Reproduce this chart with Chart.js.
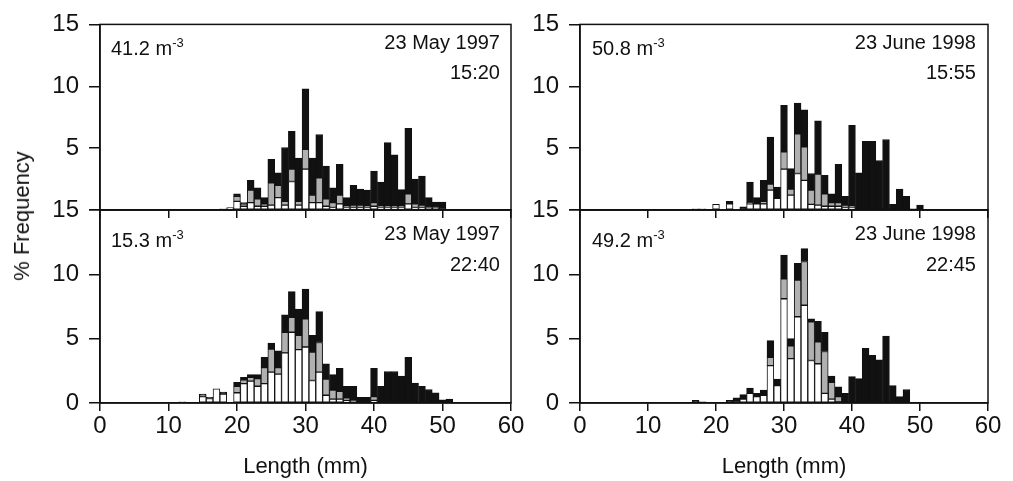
<!DOCTYPE html>
<html>
<head>
<meta charset="utf-8">
<script src="https://cdn.jsdelivr.net/npm/chart.js@4.4.1/dist/chart.umd.min.js"></script>
<style>
  body { margin: 0; background: #fff; }
  #wrap { position: relative; width: 1013px; height: 481px; font-family: "Liberation Sans", Arial, sans-serif; color: #111; }
  canvas { position: absolute; left: 0; top: 0; }
  .note { position: absolute; font-size: 20px; line-height: 20px; white-space: nowrap; }
  .note sup { font-size: 13px; line-height: 0; vertical-align: 8px; }
  #ytitle { position: absolute; left: 22px; top: 216px; transform: translate(-50%, -50%) rotate(-90deg); font-size: 22px; white-space: nowrap; }
</style>
</head>
<body>
<div id="wrap">
  <canvas id="c1" width="1013" height="481"></canvas>
  <canvas id="c2" width="1013" height="481"></canvas>
  <canvas id="c3" width="1013" height="481"></canvas>
  <canvas id="c4" width="1013" height="481"></canvas>
  <div id="ytitle">% Frequency</div>

  <div class="note" style="left:111px; top:38px;">41.2 m<sup>-3</sup></div>
  <div class="note" style="right:513px; top:32px;">23 May 1997</div>
  <div class="note" style="right:513px; top:62px;">15:20</div>

  <div class="note" style="left:592px; top:38px;">50.8 m<sup>-3</sup></div>
  <div class="note" style="right:37px; top:32px;">23 June 1998</div>
  <div class="note" style="right:37px; top:62px;">15:55</div>

  <div class="note" style="left:111px; top:230px;">15.3 m<sup>-3</sup></div>
  <div class="note" style="right:513px; top:223px;">23 May 1997</div>
  <div class="note" style="right:513px; top:254px;">22:40</div>

  <div class="note" style="left:592px; top:230px;">49.2 m<sup>-3</sup></div>
  <div class="note" style="right:37px; top:223px;">23 June 1998</div>
  <div class="note" style="right:37px; top:254px;">22:45</div>
</div>

<script>
// length classes (mm), one bar per mm
const lengths = [12, 13, 14, 15, 16, 17, 18, 19, 20, 21, 22, 23, 24, 25, 26, 27, 28, 29, 30, 31, 32,
                 33, 34, 35, 36, 37, 38, 39, 40, 41, 42, 43, 44, 45, 46, 47, 48, 49, 50, 51, 52];

// 23 May 1997 15:20
const mayDayWhite = [0, 0, 0, 0, 0, 0, 0.1, 0.2, 0.7, 0.3, 0.6, 0.3, 0.3, 0.4, 1.0, 0.4, 2.3, 0.4, 3.3, 0.6, 0.6,
                     0.3, 0.2, 0.5, 0.2, 0.2, 0.2, 0.2, 0.3, 0.2, 0.2, 0.2, 0.2, 0.5, 0.2, 0.2, 0.1, 0.1, 0.1, 0, 0];
const mayDayGray  = [0, 0, 0, 0, 0, 0, 0, 0, 0.4, 0.2, 1.0, 0.6, 0.2, 1.8, 1.0, 0.3, 1.0, 0.3, 1.6, 0.6, 2.0,
                     0.6, 0.4, 0.7, 0.1, 0.2, 0.2, 0.1, 0.3, 0.1, 0.1, 0.1, 0.1, 0.8, 0.3, 0.2, 0.1, 0.1, 0, 0, 0];
const mayDayBlack = [0, 0, 0, 0, 0, 0, 0, 0, 0.2, 0.1, 0.8, 0.9, 0.5, 1.9, 1.0, 4.35, 3.05, 3.5, 4.9, 3.0, 3.5,
                     2.65, 1.2, 2.5, 0.7, 1.6, 1.3, 1.3, 2.55, 1.95, 5.15, 4.15, 1.35, 5.3, 2.0, 2.35, 0.8, 0.45, 0.55, 0, 0];

// 23 June 1998 15:55
const junDayWhite = [0, 0, 0, 0, 0, 0.1, 0.1, 0, 0.45, 0.05, 0.5, 0.05, 0, 0.5, 0.5, 0.5, 1.6, 0.95, 3.3, 1.2, 2.95,
                     2.4, 0.45, 0.4, 0.3, 0.3, 0.3, 0.2, 0.2, 0, 0, 0, 0, 0, 0, 0, 0, 0, 0, 0, 0];
const junDayGray  = [0, 0, 0, 0, 0, 0, 0, 0, 0, 0, 0, 0, 0, 0.1, 0, 0.2, 0.5, 0, 1.4, 0.5, 3.2,
                     2.7, 1.15, 2.5, 1.0, 0.3, 0.3, 0.2, 0.1, 0, 0, 0, 0, 0, 0, 0, 0, 0, 0, 0, 0];
const junDayBlack = [0, 0, 0, 0, 0, 0, 0, 0, 0, 0, 0.2, 0, 0.25, 1.65, 0.5, 1.7, 3.8, 0.9, 3.75, 1.65, 2.5,
                     3.0, 1.35, 4.3, 1.5, 0.7, 3.1, 0.7, 6.55, 3.0, 5.55, 5.55, 4.0, 5.7, 0.45, 1.7, 1.1, 0.1, 0.4, 0, 0];

// 23 May 1997 22:40
const mayNightWhite = [0.1, 0, 0, 0.5, 0.35, 1.1, 0.7, 0, 0.8, 1.5, 1.7, 1.3, 1.5, 2.4, 2.25, 3.9, 5.5, 4.15, 4.35, 1.75, 2.4,
                       0.6, 0.3, 0.3, 0.2, 0.1, 0, 0, 0.2, 0, 0, 0, 0, 0, 0, 0, 0, 0, 0, 0, 0];
const mayNightGray  = [0, 0, 0, 0.1, 0, 0, 0, 0, 0.5, 0.3, 0.3, 0.6, 1.25, 1.8, 0.5, 1.6, 1.15, 1.1, 2.2, 2.2, 2.3,
                       1.25, 0.7, 0.6, 0.2, 0.1, 0, 0, 0.3, 0, 0, 0, 0, 0, 0, 0, 0, 0, 0, 0, 0];
const mayNightBlack = [0, 0, 0, 0.1, 0.1, 0, 0.15, 0, 0.3, 0.2, 0.2, 0.3, 0.8, 0.45, 1.3, 1.35, 2.0, 2.05, 2.3, 1.3, 2.4,
                       1.2, 1.2, 1.8, 0.9, 1.1, 0.45, 0.45, 2.2, 1.3, 2.45, 2.45, 2.1, 3.55, 1.55, 1.3, 1.05, 0.8, 0.25, 0.3, 0];

// 23 June 1998 22:45
const junNightWhite = [0, 0, 0, 0, 0, 0, 0, 0, 0, 0, 0, 0.1, 0.3, 0.75, 0.5, 0.6, 2.9, 1.35, 8.1, 3.45, 6.7,
                       7.6, 3.3, 3.05, 0.75, 0.3, 0.1, 0, 0, 0, 0, 0, 0, 0, 0, 0, 0, 0, 0, 0, 0];
const junNightGray  = [0, 0, 0, 0, 0, 0, 0, 0, 0, 0, 0, 0, 0, 0, 0, 0, 0.65, 0, 1.55, 1.0, 2.85,
                       3.4, 3.0, 1.7, 3.25, 1.3, 0.4, 0, 0, 0, 0, 0, 0, 0, 0, 0, 0, 0, 0, 0, 0];
const junNightBlack = [0, 0, 0, 0, 0, 0.2, 0.1, 0.05, 0.05, 0, 0.2, 0.3, 0.35, 0.4, 0.25, 0.4, 1.3, 0.5, 1.85, 0.55, 1.3,
                       1.0, 0.25, 1.6, 1.5, 0.5, 0.75, 0.75, 2.05, 1.9, 4.25, 3.7, 3.35, 5.2, 1.35, 0.5, 1.05, 0, 0, 0, 0];

Chart.defaults.font.family = '"Liberation Sans", Arial, sans-serif';
Chart.defaults.color = '#111';

const ink = '#111';

// box around each plot area
const framePlugin = {
    id: 'frame',
    afterDraw(chart) {
        const { ctx, chartArea: a } = chart;
        ctx.save();
        ctx.strokeStyle = ink;
        ctx.lineWidth = 1.5;
        ctx.strokeRect(a.left, a.top, a.right - a.left, a.bottom - a.top);
        ctx.restore();
    }
};

function toPoints(arr) {
    return lengths.map((x, i) => ({ x: x, y: arr[i] }));
}

function drawPanel(canvasId, white, gray, black, pad, isBottom) {
    const ctx = document.getElementById(canvasId).getContext('2d');
    const barStyle = {
        borderColor: ink,
        borderWidth: 1,
        borderSkipped: false,
        barPercentage: 1.0,
        categoryPercentage: 1.0
    };
    new Chart(ctx, {
        type: 'bar',
        data: {
            datasets: [
                Object.assign({ label: 'white', data: toPoints(white), backgroundColor: '#ffffff' }, barStyle),
                Object.assign({ label: 'gray', data: toPoints(gray), backgroundColor: '#b0b0b0' }, barStyle),
                Object.assign({ label: 'black', data: toPoints(black), backgroundColor: '#111111' }, barStyle)
            ]
        },
        options: {
            responsive: false,
            animation: false,
            devicePixelRatio: 1,
            layout: { padding: pad },
            plugins: {
                legend: { display: false },
                tooltip: { enabled: false }
            },
            scales: {
                x: {
                    type: 'linear',
                    stacked: true,
                    offset: false,
                    min: 0,
                    max: 60,
                    afterFit: (scale) => { scale.height = isBottom ? 78 : 20; },
                    ticks: {
                        stepSize: 10,
                        padding: 1,
                        font: { size: 24 },
                        callback: (v) => isBottom ? v : ''
                    },
                    grid: { offset: false, drawOnChartArea: false, drawTicks: true, tickLength: 8, color: ink, lineWidth: 1.5 },
                    border: { display: true, color: ink, width: 1.5 },
                    title: {
                        display: isBottom,
                        text: 'Length (mm)',
                        font: { size: 22 },
                        padding: { top: 0, bottom: 1 }
                    }
                },
                y: {
                    stacked: true,
                    min: 0,
                    max: 15,
                    afterFit: (scale) => { scale.width = 100; },
                    ticks: {
                        stepSize: 5,
                        padding: 10,
                        font: { size: 24 },
                        callback: (v) => (!isBottom && v === 0) ? '' : v
                    },
                    grid: { drawOnChartArea: false, drawTicks: true, tickLength: 11, color: ink, lineWidth: 1.5 },
                    border: { display: true, color: ink, width: 1.5 }
                }
            }
        },
        plugins: [framePlugin]
    });
}

drawPanel('c1', mayDayWhite, mayDayGray, mayDayBlack, { left: 0, right: 502, top: 17, bottom: 251 }, false);
drawPanel('c2', junDayWhite, junDayGray, junDayBlack, { left: 480, right: 25, top: 17, bottom: 251 }, false);
drawPanel('c3', mayNightWhite, mayNightGray, mayNightBlack, { left: 0, right: 502, top: 210, bottom: 0 }, true);
drawPanel('c4', junNightWhite, junNightGray, junNightBlack, { left: 480, right: 25, top: 210, bottom: 0 }, true);
</script>
</body>
</html>
